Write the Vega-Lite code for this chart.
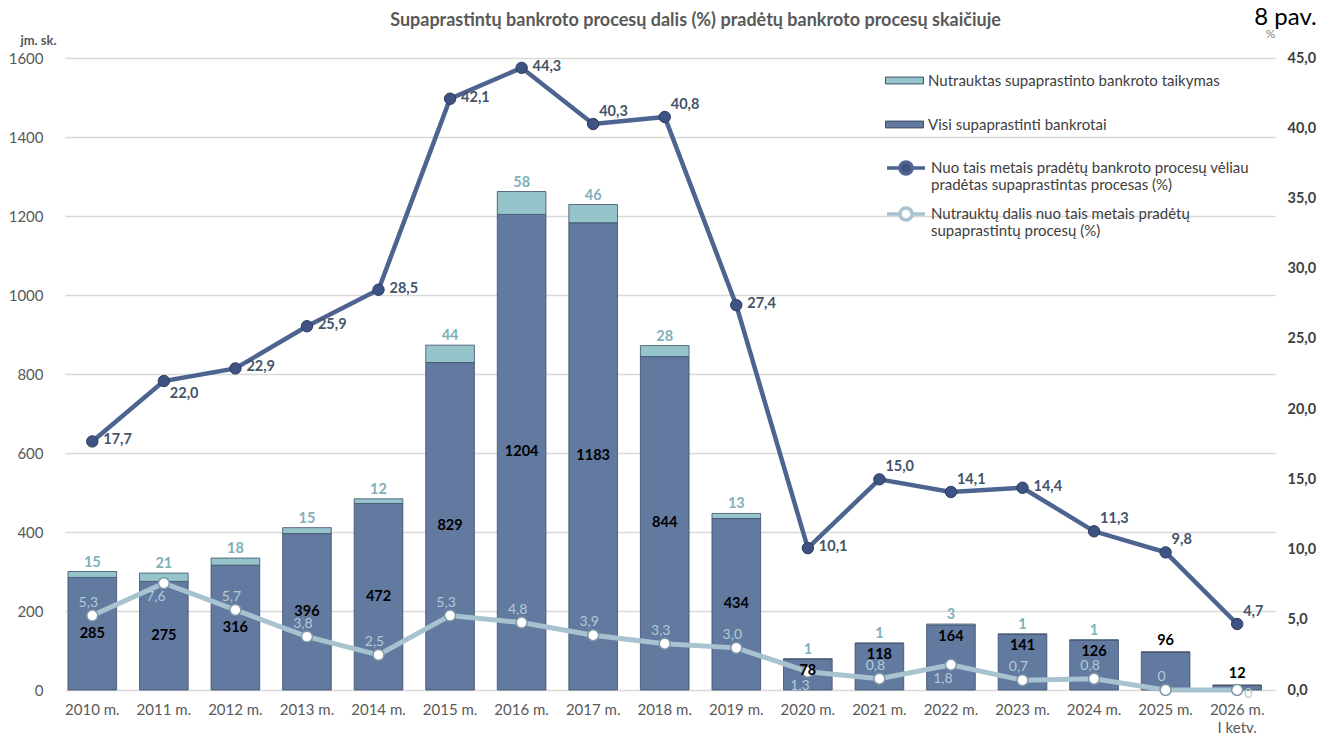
{
  "$schema": "https://vega.github.io/schema/vega-lite/v6.json",
  "width": 1210,
  "height": 632,
  "autosize": "none",
  "padding": {"left": 65, "top": 58, "right": 63, "bottom": 45},
  "background": "white",
  "config": {
    "font": "Lato",
    "view": {"stroke": null},
    "locale": {"number": {"decimal": ",", "thousands": " ", "grouping": [3], "currency": ["", " €"]}}
  },
  "data": {
    "values": [
      {"year": "2010 m.", "visi": 285, "nutr": 15, "p1": 17.7, "p2": 5.3},
      {"year": "2011 m.", "visi": 275, "nutr": 21, "p1": 22.0, "p2": 7.6},
      {"year": "2012 m.", "visi": 316, "nutr": 18, "p1": 22.9, "p2": 5.7},
      {"year": "2013 m.", "visi": 396, "nutr": 15, "p1": 25.9, "p2": 3.8},
      {"year": "2014 m.", "visi": 472, "nutr": 12, "p1": 28.5, "p2": 2.5},
      {"year": "2015 m.", "visi": 829, "nutr": 44, "p1": 42.1, "p2": 5.3},
      {"year": "2016 m.", "visi": 1204, "nutr": 58, "p1": 44.3, "p2": 4.8},
      {"year": "2017 m.", "visi": 1183, "nutr": 46, "p1": 40.3, "p2": 3.9},
      {"year": "2018 m.", "visi": 844, "nutr": 28, "p1": 40.8, "p2": 3.3},
      {"year": "2019 m.", "visi": 434, "nutr": 13, "p1": 27.4, "p2": 3.0},
      {"year": "2020 m.", "visi": 78, "nutr": 1, "p1": 10.1, "p2": 1.3},
      {"year": "2021 m.", "visi": 118, "nutr": 1, "p1": 15.0, "p2": 0.8},
      {"year": "2022 m.", "visi": 164, "nutr": 3, "p1": 14.1, "p2": 1.8},
      {"year": "2023 m.", "visi": 141, "nutr": 1, "p1": 14.4, "p2": 0.7},
      {"year": "2024 m.", "visi": 126, "nutr": 1, "p1": 11.3, "p2": 0.8},
      {"year": "2025 m.", "visi": 96, "nutr": 0, "p1": 9.8, "p2": 0},
      {"year": "2026 m.|I ketv.", "visi": 12, "nutr": 0, "p1": 4.7, "p2": 0}
    ]
  },
  "layer": [
    {
      "transform": [{"fold": ["visi", "nutr"], "as": ["series", "count"]}],
      "mark": {"type": "bar", "stroke": "#3d4d6b", "strokeWidth": 1, "strokeOpacity": 0.8},
      "encoding": {
        "x": {
          "field": "year", "type": "nominal", "sort": null,
          "scale": {"paddingInner": 0.32, "paddingOuter": 0.115, "align": 0.18},
          "axis": {
            "title": null, "labelAngle": 0, "labelFontSize": 15, "labelColor": "#595959",
            "labelPadding": 12, "ticks": false, "domain": false, "grid": false,
            "labelExpr": "split(datum.label, '|')", "labelLineHeight": 18
          }
        },
        "y": {
          "field": "count", "type": "quantitative", "stack": "zero",
          "scale": {"domain": [0, 1600], "nice": false},
          "axis": {
            "title": "jm. sk.", "titleAngle": 0, "titleX": -27, "titleY": -18,
            "titleAlign": "center", "titleBaseline": "middle", "titleFontSize": 13,
            "titleFontWeight": "bold", "titleColor": "#595959",
            "values": [0, 200, 400, 600, 800, 1000, 1200, 1400, 1600], "format": "d",
            "labelFontSize": 15, "labelColor": "#595959", "labelPadding": 22,
            "ticks": false, "domain": false, "grid": true, "gridColor": "#d9d9d9", "gridWidth": 1.5
          }
        },
        "color": {
          "field": "series", "type": "nominal",
          "scale": {"domain": ["nutr", "visi"], "range": ["#95c5ca", "#6279a0"]},
          "legend": {
            "orient": "none", "legendX": 820, "legendY": 3, "title": null,
            "symbolType": "M-1,-0.18H1V0.18H-1Z", "symbolSize": 1444,
            "symbolStrokeColor": "#3d4d6b", "symbolStrokeWidth": 1,
            "labelFontSize": 15, "labelColor": "#404040", "labelFont": "Lato",
            "rowPadding": 16, "labelOffset": 4, "labelLimit": 400,
            "labelExpr": "datum.label == 'nutr' ? 'Nutrauktas supaprastinto bankroto taikymas' : 'Visi supaprastinti bankrotai'"
          }
        },
        "order": {"field": "series", "sort": "descending"}
      }
    },
    {
      "mark": {"type": "line", "strokeWidth": 5},
      "encoding": {
        "x": {
          "field": "year", "type": "nominal", "sort": null,
          "axis": {
            "orient": "top", "labels": false, "ticks": false, "domain": false, "grid": false,
            "title": "8 pav.", "titleX": 1220, "titleY": -34, "titleAlign": "center",
            "titleBaseline": "alphabetic", "titleFontSize": 24, "titleFontWeight": "normal",
            "titleColor": "#000000", "titleFont": "Lato"
          }
        },
        "y": {
          "field": "p2", "type": "quantitative",
          "scale": {"domain": [0, 45], "nice": false},
          "axis": {
            "orient": "right", "title": "%", "titleAngle": 0, "titleX": -5, "titleY": -21,
            "titleAlign": "center", "titleBaseline": "alphabetic", "titleFontSize": 12,
            "titleFontWeight": "normal", "titleColor": "#7f7f7f",
            "values": [0, 5, 10, 15, 20, 25, 30, 35, 40, 45], "format": ".1f",
            "labelFontSize": 14.5, "labelFontWeight": "bold", "labelColor": "#404040",
            "labelPadding": 12, "ticks": false, "domain": false, "grid": false
          }
        },
        "stroke": {
          "datum": "p2", "type": "nominal",
          "scale": {"domain": ["p1", "p2"], "range": ["#4d6390", "#a7c3cf"]},
          "legend": {
            "orient": "none", "legendX": 820, "legendY": 89, "title": null,
            "symbolType": "M-1,0H-0.32M0.32,0H1M0.32,0A0.32,0.32,0,1,1,-0.32,0A0.32,0.32,0,1,1,0.32,0",
            "symbolSize": 1444, "symbolStrokeWidth": 3.5,
            "labelFontSize": 15, "labelColor": "#404040", "labelFont": "Lato",
            "rowPadding": 0, "labelOffset": 4, "labelLimit": 500, "labelLineHeight": 18,
            "labelExpr": "datum.label == 'p1' ? ['Nuo tais metais pradėtų bankroto procesų vėliau', 'pradėtas supaprastintas procesas (%)'] : ['Nutrauktų dalis nuo tais metais pradėtų', 'supaprastintų procesų (%)']",
            "encode": {"symbols": {"update": {"fill": {"signal": "datum.value == 'p1' ? '#3e5384' : '#ffffff'"}, "fillOpacity": {"value": 1}}}}
          }
        }
      }
    },
    {
      "mark": {"type": "line", "strokeWidth": 4.5},
      "encoding": {
        "x": {"field": "year", "type": "nominal", "sort": null, "axis": null},
        "y": {"field": "p1", "type": "quantitative", "scale": {"domain": [0, 45], "nice": false}, "axis": null},
        "stroke": {"datum": "p1", "type": "nominal"}
      }
    },
    {
      "mark": {"type": "circle", "size": 120, "fill": "#ffffff", "stroke": "#7f98a6", "strokeWidth": 1.5, "opacity": 1},
      "encoding": {
        "x": {"field": "year", "type": "nominal", "sort": null, "axis": null},
        "y": {"field": "p2", "type": "quantitative", "scale": {"domain": [0, 45], "nice": false}, "axis": null}
      }
    },
    {
      "mark": {"type": "circle", "size": 130, "fill": "#3e5384", "stroke": "#2c3a5e", "strokeWidth": 1, "opacity": 1},
      "encoding": {
        "x": {"field": "year", "type": "nominal", "sort": null, "axis": null},
        "y": {"field": "p1", "type": "quantitative", "scale": {"domain": [0, 45], "nice": false}, "axis": null}
      }
    },
    {
      "transform": [{"filter": "indexof(['2011 m.', '2017 m.', '2018 m.', '2021 m.', '2022 m.', '2024 m.', '2025 m.', '2026 m.|I ketv.'], datum.year) < 0"}],
      "mark": {"type": "text", "align": "left", "baseline": "middle", "dx": 11, "dy": -1, "fontSize": 14.5, "fontWeight": "bold", "color": "#44546a"},
      "encoding": {
        "x": {"field": "year", "type": "nominal", "sort": null, "axis": null},
        "y": {"field": "p1", "type": "quantitative", "scale": {"domain": [0, 45], "nice": false}, "axis": null},
        "text": {"field": "p1", "type": "quantitative", "format": ".1f"}
      }
    },
    {
      "transform": [{"filter": "indexof(['2017 m.', '2018 m.', '2021 m.', '2022 m.', '2024 m.', '2025 m.', '2026 m.|I ketv.'], datum.year) >= 0"}],
      "mark": {"type": "text", "align": "left", "baseline": "middle", "dx": 6, "dy": -12, "fontSize": 14.5, "fontWeight": "bold", "color": "#44546a"},
      "encoding": {
        "x": {"field": "year", "type": "nominal", "sort": null, "axis": null},
        "y": {"field": "p1", "type": "quantitative", "scale": {"domain": [0, 45], "nice": false}, "axis": null},
        "text": {"field": "p1", "type": "quantitative", "format": ".1f"}
      }
    },
    {
      "transform": [{"filter": "datum.year == '2011 m.'"}],
      "mark": {"type": "text", "align": "left", "baseline": "middle", "dx": 6, "dy": 13, "fontSize": 14.5, "fontWeight": "bold", "color": "#44546a"},
      "encoding": {
        "x": {"field": "year", "type": "nominal", "sort": null, "axis": null},
        "y": {"field": "p1", "type": "quantitative", "scale": {"domain": [0, 45], "nice": false}, "axis": null},
        "text": {"field": "p1", "type": "quantitative", "format": ".1f"}
      }
    },
    {
      "transform": [
        {"filter": "indexof(['2011 m.', '2020 m.', '2022 m.', '2026 m.|I ketv.'], datum.year) < 0"},
        {"calculate": "datum.p2 == 0 ? '0' : format(datum.p2, '.1f')", "as": "lbl2"}
      ],
      "mark": {"type": "text", "align": "center", "baseline": "bottom", "dx": -4, "dy": -6, "fontSize": 14, "color": "#b3cbd6"},
      "encoding": {
        "x": {"field": "year", "type": "nominal", "sort": null, "axis": null},
        "y": {"field": "p2", "type": "quantitative", "scale": {"domain": [0, 45], "nice": false}, "axis": null},
        "text": {"field": "lbl2", "type": "nominal"}
      }
    },
    {
      "transform": [
        {"filter": "indexof(['2011 m.', '2020 m.', '2022 m.'], datum.year) >= 0"},
        {"calculate": "format(datum.p2, '.1f')", "as": "lbl2"}
      ],
      "mark": {"type": "text", "align": "center", "baseline": "top", "dx": -8, "dy": 7, "fontSize": 14, "color": "#b3cbd6"},
      "encoding": {
        "x": {"field": "year", "type": "nominal", "sort": null, "axis": null},
        "y": {"field": "p2", "type": "quantitative", "scale": {"domain": [0, 45], "nice": false}, "axis": null},
        "text": {"field": "lbl2", "type": "nominal"}
      }
    },
    {
      "transform": [
        {"filter": "datum.year == '2026 m.|I ketv.'"},
        {"calculate": "datum.p2 == 0 ? '0' : format(datum.p2, '.1f')", "as": "lbl2"}
      ],
      "mark": {"type": "text", "align": "left", "baseline": "middle", "dx": 7, "dy": 4, "fontSize": 14, "color": "#b3cbd6"},
      "encoding": {
        "x": {"field": "year", "type": "nominal", "sort": null, "axis": null},
        "y": {"field": "p2", "type": "quantitative", "scale": {"domain": [0, 45], "nice": false}, "axis": null},
        "text": {"field": "lbl2", "type": "nominal"}
      }
    },
    {
      "transform": [{"filter": "datum.nutr > 0 && datum.visi >= 200"}, {"calculate": "datum.visi / 2", "as": "mid"}],
      "mark": {"type": "text", "align": "center", "baseline": "middle", "fontSize": 14.5, "fontWeight": "bold", "color": "#000000"},
      "encoding": {
        "x": {
          "field": "year", "type": "nominal", "sort": null,
          "axis": {
            "orient": "top", "labels": false, "ticks": false, "domain": false, "grid": false,
            "title": "Supaprastintų bankroto procesų dalis (%) pradėtų bankroto procesų skaičiuje",
            "titleX": 630, "titleY": -38, "titleAlign": "center", "titleBaseline": "middle",
            "titleFontSize": 18, "titleFontWeight": "bold", "titleColor": "#595959", "titleFont": "Lato",
            "titleLimit": 1000
          }
        },
        "y": {"field": "mid", "type": "quantitative", "scale": {"domain": [0, 1600], "nice": false}, "axis": null},
        "text": {"field": "visi", "type": "quantitative", "format": "d"}
      }
    },
    {
      "transform": [{"filter": "datum.nutr > 0 && datum.visi < 200"}],
      "mark": {"type": "text", "align": "center", "baseline": "top", "dy": 5, "fontSize": 14.5, "fontWeight": "bold", "color": "#000000"},
      "encoding": {
        "x": {"field": "year", "type": "nominal", "sort": null, "axis": null},
        "y": {"field": "visi", "type": "quantitative", "scale": {"domain": [0, 1600], "nice": false}, "axis": null},
        "text": {"field": "visi", "type": "quantitative", "format": "d"}
      }
    },
    {
      "transform": [{"filter": "datum.nutr == 0"}],
      "mark": {"type": "text", "align": "center", "baseline": "bottom", "dy": -4, "fontSize": 14.5, "fontWeight": "bold", "color": "#000000"},
      "encoding": {
        "x": {"field": "year", "type": "nominal", "sort": null, "axis": null},
        "y": {"field": "visi", "type": "quantitative", "scale": {"domain": [0, 1600], "nice": false}, "axis": null},
        "text": {"field": "visi", "type": "quantitative", "format": "d"}
      }
    },
    {
      "transform": [{"filter": "datum.nutr > 0"}, {"calculate": "datum.visi + datum.nutr", "as": "total"}],
      "mark": {"type": "text", "align": "center", "baseline": "bottom", "dy": -2, "fontSize": 14.5, "fontWeight": "bold", "color": "#7fb0bb"},
      "encoding": {
        "x": {"field": "year", "type": "nominal", "sort": null, "axis": null},
        "y": {"field": "total", "type": "quantitative", "scale": {"domain": [0, 1600], "nice": false}, "axis": null},
        "text": {"field": "nutr", "type": "quantitative", "format": "d"}
      }
    }
  ],
  "resolve": {"scale": {"y": "independent"}, "axis": {"x": "independent", "y": "independent"}}
}
